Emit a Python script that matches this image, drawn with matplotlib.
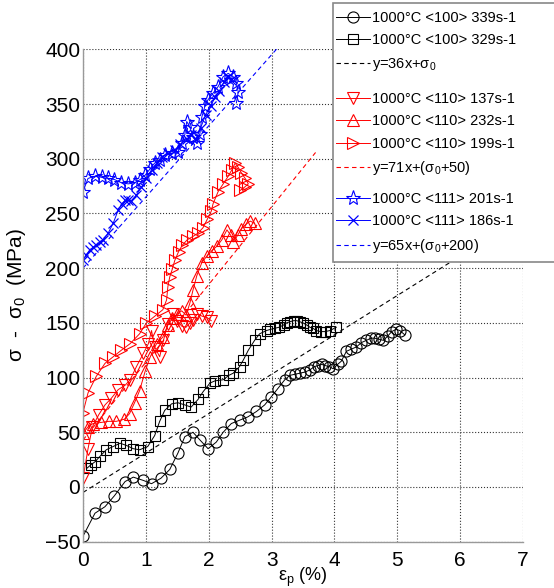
import numpy as np
import matplotlib
matplotlib.use('Agg')
import matplotlib.pyplot as plt
from matplotlib.patches import Rectangle

plt.rcParams['font.family'] = ['Liberation Sans', 'DejaVu Sans']
plt.rcParams['mathtext.fontset'] = 'custom'
plt.rcParams['mathtext.rm'] = 'Liberation Sans'

# <100> 339 s-1 (circles)
c339_x = [0.00, 0.19, 0.35, 0.50, 0.67, 0.80, 0.96, 1.09, 1.24, 1.38, 1.51, 1.62, 1.75, 1.86,
          1.99, 2.12, 2.23, 2.36, 2.49, 2.62, 2.76, 2.89, 2.99, 3.10, 3.21, 3.29, 3.37, 3.45,
          3.53, 3.61, 3.68, 3.74, 3.80, 3.85, 3.92, 3.98, 4.05, 4.11, 4.19, 4.27, 4.35, 4.43,
          4.51, 4.58, 4.64, 4.71, 4.78, 4.85, 4.91, 4.98, 5.04, 5.12]
c339_y = [-45, -24, -18, -8, 5, 9, 6, 3, 8, 16, 31, 46, 50, 43,
          35, 41, 50, 58, 61, 64, 69, 75, 82, 90, 98, 102, 103, 104,
          105, 107, 110, 111, 112, 111, 110, 108, 112, 115, 124, 126, 128, 132,
          134, 136, 136, 135, 134, 138, 142, 144, 143, 139]

# <100> 329 s-1 (squares)
c329_x = [0.06, 0.12, 0.19, 0.27, 0.37, 0.48, 0.59, 0.69, 0.80, 0.90, 1.03, 1.14, 1.22, 1.30,
          1.41, 1.51, 1.62, 1.72, 1.83, 1.91, 2.02, 2.10, 2.23, 2.32, 2.39, 2.49, 2.55, 2.63,
          2.73, 2.81, 2.92, 2.98, 3.05, 3.12, 3.19, 3.24, 3.29, 3.35, 3.40, 3.45, 3.50, 3.56,
          3.61, 3.66, 3.71, 3.78, 3.85, 3.93, 4.03]
c329_y = [17, 20, 23, 28, 34, 37, 40, 38, 35, 34, 37, 47, 60, 70,
          76, 77, 75, 73, 80, 87, 95, 97, 98, 102, 104, 110, 116, 125,
          134, 140, 143, 144, 145, 146, 148, 150, 151, 152, 152, 151, 150, 148,
          146, 145, 143, 142, 142, 143, 146]

# <110> 137 s-1 (down triangles)
c137_x = [0.00, 0.08, 0.15, 0.25, 0.35, 0.45, 0.56, 0.67, 0.75, 0.85, 0.96, 1.04, 1.09, 1.14,
          1.22, 1.28, 1.35, 1.43, 1.50, 1.57, 1.64, 1.70, 1.75, 1.82, 1.90, 1.97, 2.04]
c137_y = [8, 35, 55, 66, 75, 81, 89, 93, 98, 110, 122, 131, 143, 128,
          119, 134, 149, 158, 152, 147, 146, 150, 153, 158, 156, 155, 152]

# <110> 232 s-1 (up triangles)
c232_x = [0.00, 0.08, 0.16, 0.29, 0.41, 0.53, 0.66, 0.74, 0.82, 0.90, 0.99, 1.07, 1.17, 1.27,
          1.35, 1.42, 1.50, 1.57, 1.64, 1.70, 1.75, 1.81, 1.89, 1.97, 2.05, 2.13, 2.21, 2.29,
          2.35, 2.39, 2.46, 2.52, 2.59, 2.66, 2.73]
c232_y = [49, 55, 58, 59, 60, 60, 62, 67, 77, 88, 106, 119, 131, 137,
          148, 154, 158, 161, 157, 168, 180, 193, 205, 211, 216, 220, 226, 235,
          230, 224, 230, 236, 240, 243, 241]

# <110> 199 s-1 (right triangles)
c199_x = [0.00, 0.08, 0.21, 0.35, 0.48, 0.61, 0.75, 0.90, 1.01, 1.14, 1.27, 1.33, 1.35, 1.38,
          1.42, 1.46, 1.52, 1.58, 1.66, 1.75, 1.83, 1.91, 1.98, 2.04, 2.07, 2.15, 2.23, 2.31,
          2.37, 2.42, 2.47, 2.52, 2.58, 2.63, 2.57, 2.50]
c199_y = [68, 86, 101, 113, 119, 125, 131, 140, 150, 156, 162, 171, 183, 192,
          199, 207, 215, 221, 226, 229, 232, 237, 245, 252, 259, 270, 277, 284,
          290, 296, 292, 287, 282, 277, 274, 271]

# <111> 201 s-1 (stars)
c201_x = [0.00, 0.08, 0.19, 0.30, 0.40, 0.50, 0.61, 0.72, 0.82, 0.91, 0.99, 1.07, 1.14, 1.22,
          1.30, 1.41, 1.51, 1.57, 1.62, 1.65, 1.70, 1.75, 1.81, 1.86, 1.89, 1.94, 1.99, 2.07,
          2.15, 2.23, 2.31, 2.39, 2.44, 2.47, 2.44]
c201_y = [270, 282, 284, 283, 282, 281, 278, 277, 278, 281, 285, 291, 296, 299,
          303, 305, 306, 314, 322, 334, 329, 320, 314, 323, 338, 348, 354, 360,
          366, 375, 378, 375, 369, 361, 351]

# <111> 186 s-1 (crosses)
c186_x = [0.00, 0.05, 0.11, 0.16, 0.21, 0.27, 0.32, 0.40, 0.48, 0.56, 0.62, 0.67, 0.72, 0.77,
          0.85, 0.93, 1.01, 1.09, 1.17, 1.25, 1.36, 1.46, 1.55, 1.65, 1.72, 1.80, 1.87, 1.95,
          2.03, 2.10, 2.17, 2.24, 2.30, 2.36]
c186_y = [207, 212, 217, 219, 221, 224, 226, 232, 241, 253, 259, 262, 262, 261,
          267, 274, 282, 290, 296, 302, 305, 308, 313, 318, 322, 318, 328, 340,
          348, 356, 362, 370, 375, 372]

# fitted lines: slope, intercept, x range
fit100 = (36, -5, 0, 7)
fit110 = (71, 43, 0, 3.7)
fit111 = (65, 200, 0, 3.2)

labels = ['1000°C <100> 339s-1', '1000°C <100> 329s-1', r'y=36x+$\mathregular{σ_0}$',
          '1000°C <110> 137s-1', '1000°C <110> 232s-1', '1000°C <110> 199s-1',
          r'y=71x+($\mathregular{σ_0}$+50)',
          '1000°C <111> 201s-1', '1000°C <111> 186s-1', r'y=65x+($\mathregular{σ_0}$+200)']

W, H = 554, 588
fig = plt.figure(figsize=(W / 100, H / 100), dpi=100)
ax = fig.add_axes([83 / W, 1 - 541.7 / H, 440 / W, 492.4 / H])

kw = dict(lw=0.7, mfc='none', mew=0.8)
dash = (0, (4, 3))


def fit_line(f):
    xs = np.array([f[2], f[3]])
    return xs, f[0] * xs + f[1]


h = []
h += ax.plot(c339_x, c339_y, '-o', color='k', ms=8, **kw)
h += ax.plot(c329_x, c329_y, '-s', color='k', ms=7, **kw)
h += ax.plot(*fit_line(fit100), color='k', lw=0.8, ls=dash)
h += ax.plot(c137_x, c137_y, '-v', color='r', ms=9, **kw)
h += ax.plot(c232_x, c232_y, '-^', color='r', ms=9, **kw)
h += ax.plot(c199_x, c199_y, '->', color='r', ms=9, **kw)
h += ax.plot(*fit_line(fit110), color='r', lw=0.8, ls=dash)
h += ax.plot(c201_x, c201_y, '-*', color='b', ms=11, **kw)
h += ax.plot(c186_x, c186_y, '-x', color='b', ms=7, lw=0.7, mew=0.9)
h += ax.plot(*fit_line(fit111), color='b', lw=0.8, ls=dash)

ax.set_xlim(0, 7)
ax.set_ylim(-50, 400)
ax.set_xticks(range(0, 8))
ax.set_yticks(range(-50, 401, 50))
ax.grid(True, ls=':', color='#333333', lw=0.8)
ax.set_axisbelow(True)
for s in ['top', 'right']:
    ax.spines[s].set_visible(False)
for s in ['left', 'bottom']:
    ax.spines[s].set_color('#999999')
    ax.spines[s].set_linewidth(1.0)
ax.tick_params(labelsize=15, length=0)
ax.tick_params(axis='y', pad=2)
ax.tick_params(axis='x', pad=7)
ax.set_xlabel(r'$\mathregular{ε_p}$ (%)', fontsize=13, labelpad=-3.5)
ax.set_ylabel(r'$\mathregular{σ}$  -  $\mathregular{σ_0}$  (MPa)', fontsize=15, labelpad=12)

# legend box (runs off the right edge like the original)
fig.add_artist(Rectangle((333 / W, 1 - 262 / H), 240 / W, 259 / H, transform=fig.transFigure,
                         facecolor='white', edgecolor='#888888', lw=1.2, zorder=3, clip_on=False))

groups = [(0, 3, 11), (3, 7, 92), (7, 10, 192)]
for a, b, top in groups:
    leg = fig.legend(h[a:b], labels[a:b], loc='upper left',
                     bbox_to_anchor=(336 / W, 1 - top / H),
                     fontsize=10.5, frameon=False, handlelength=2.3, handletextpad=0.2,
                     labelspacing=0.58, borderpad=0, borderaxespad=0)
    leg.set_zorder(4)

fig.savefig('out.png', dpi=100)
